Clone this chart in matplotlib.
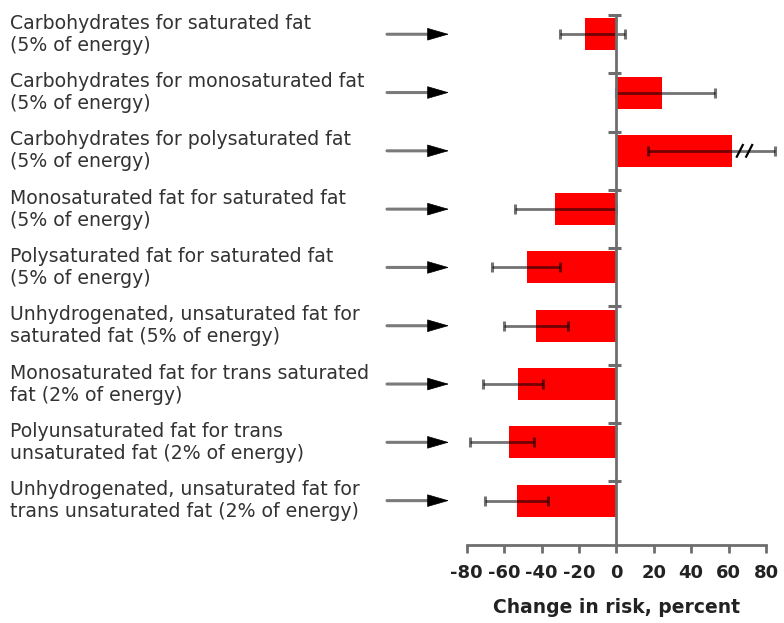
import numpy as np
import matplotlib
matplotlib.use('Agg')
import matplotlib.pyplot as plt

## Data
labels = ['Carbohydrates for saturated fat\n(5% of energy)',
          'Carbohydrates for monosaturated fat\n(5% of energy)',
          'Carbohydrates for polysaturated fat\n(5% of energy)',
          'Monosaturated fat for saturated fat\n(5% of energy)',
          'Polysaturated fat for saturated fat\n(5% of energy)',
          'Unhydrogenated, unsaturated fat for\nsaturated fat (5% of energy)',
          'Monosaturated fat for trans saturated\nfat (2% of energy)',
          'Polyunsaturated fat for trans\nunsaturated fat (2% of energy)',
          'Unhydrogenated, unsaturated fat for\ntrans unsaturated fat (2% of energy)']
change = [-17, 24.5, 62, -33, -48, -43, -52.5, -57.5, -53]
ci_low = [-30, 0, 17, -54, -66.5, -60, -71.5, -78, -70]
ci_high = [4.5, 53, 85, 0, -30, -26, -39, -44, -36.5]
break_row = 2
break_at = [66, 71]
xticks = [-80, -60, -40, -20, 0, 20, 40, 60, 80]
xticklabels = ['-80', '-60', '-40', '-20', '0', '20', '40', '60', '80']

W, H = 784, 623
fig = plt.figure(figsize=(W/100, H/100), dpi=100)
ax = fig.add_axes([466.7/W, (H-545)/H, (766-466.7)/W, (545-15)/H])

n = len(change)
ypos = np.arange(n) + 0.33
axis_grey = '#6e6e6e'

ax.barh(ypos, change, height=0.55, color='#ff0000', zorder=2)
err = [np.array(change)-np.array(ci_low), np.array(ci_high)-np.array(change)]
ax.errorbar(change, ypos, xerr=err, fmt='none', ecolor='black', alpha=0.55,
            elinewidth=2, capsize=3.5, capthick=2.2, zorder=3, clip_on=False)

# break marks on the long interval
for bx in break_at:
   ax.plot([bx-1.6, bx+1.6], [ypos[break_row]+0.1, ypos[break_row]-0.1],
           color='black', lw=1.6, zorder=4, clip_on=False)

# central axis at zero with category ticks
ax.axvline(0, color=axis_grey, lw=2, zorder=4)
ax.hlines(np.arange(n), -4.2, 2.6, color=axis_grey, lw=2.2, zorder=4, clip_on=False)

ax.set_xlim(-80, 80)
ax.set_ylim((545-15)/58.3, 0)
for s in ['top', 'right', 'left']:
   ax.spines[s].set_visible(False)
ax.spines['bottom'].set_color(axis_grey)
ax.spines['bottom'].set_linewidth(2)
ax.set_yticks([])
ax.set_xticks(xticks)
ax.set_xticklabels(xticklabels)
ax.tick_params(axis='x', direction='out', length=6, width=2, color=axis_grey,
               pad=8, labelsize=13, labelcolor='#222222')
for t in ax.get_xticklabels():
   t.set_fontweight('bold')
ax.set_xlabel('Change in risk, percent', fontsize=13.5, fontweight='bold',
              color='#222222', labelpad=11)

# labels and arrows on the left
for i, lab in enumerate(labels):
   ax.annotate(lab, xy=(10, ypos[i]), xycoords=('figure pixels', 'data'),
               ha='left', va='center', fontsize=13.6, color='#333333',
               linespacing=1.2, annotation_clip=False)
   ax.annotate('', xy=(432, ypos[i]), xytext=(387, ypos[i]),
               xycoords=('figure pixels', 'data'), textcoords=('figure pixels', 'data'),
               arrowprops=dict(arrowstyle='-', color='#7a7a7a', lw=2.2,
                               shrinkA=0, shrinkB=0), annotation_clip=False)
   ax.annotate('', xy=(449, ypos[i]), xytext=(429, ypos[i]),
               xycoords=('figure pixels', 'data'), textcoords=('figure pixels', 'data'),
               arrowprops=dict(arrowstyle='-|>,head_length=1.45,head_width=0.42',
                               color='black', lw=0.5, shrinkA=0, shrinkB=0),
               annotation_clip=False)

plt.savefig('out.png', dpi=100)
